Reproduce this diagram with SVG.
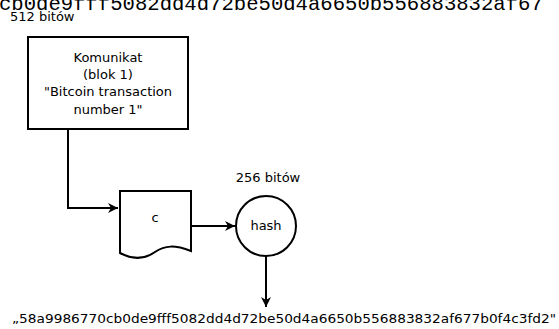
<svg xmlns="http://www.w3.org/2000/svg" width="559" height="329" viewBox="0 0 559 329">
  <style>
    .lbl { font-family: "DejaVu Sans", sans-serif; font-size: 13px; fill: #000; }
    .mid { text-anchor: middle; }
    .mono { font-family: "Liberation Mono", "Courier New", monospace; font-size: 20.6px; fill: #000; }
    .shape { fill: #fff; stroke: #000; stroke-width: 2; }
    .wire { fill: none; stroke: #000; stroke-width: 2; }
  </style>
  <defs>
    <marker id="arrow" viewBox="0 0 10 10" refX="10" refY="5" markerWidth="5" markerHeight="5" orient="auto" markerUnits="strokeWidth">
      <path d="M0,0 L10,5 L0,10 L3,5 Z" fill="#000"/>
    </marker>
  </defs>
  <rect width="559" height="329" fill="#fff"/>

  <!-- hash string running off the top edge -->
  <text class="mono" x="-1" y="10">cb0de9fff5082dd4d72be50d4a6650b556883832af67</text>
  <text class="lbl" x="10" y="21">512 bitów</text>

  <g id="connectors">
    <path class="wire" d="M68,129 V208 H118" marker-end="url(#arrow)"/>
    <path class="wire" d="M191,226 H235" marker-end="url(#arrow)"/>
    <path class="wire" d="M266,256 V307" marker-end="url(#arrow)"/>
  </g>

  <g id="message">
    <rect class="shape" x="28" y="37" width="160" height="92"/>
    <text class="lbl mid" x="108" y="62">Komunikat</text>
    <text class="lbl mid" x="108" y="79">(blok 1)</text>
    <text class="lbl mid" x="108" y="96">"Bitcoin transaction</text>
    <text class="lbl mid" x="108" y="114">number 1"</text>
  </g>

  <g id="doc">
    <path class="shape" d="M120,191 H191 V251 C175,245 165,245 155,252 C145,259 133,260 120,253 Z"/>
    <text class="lbl mid" x="155" y="222">c</text>
  </g>

  <g id="hash">
    <text class="lbl mid" x="268" y="182">256 bitów</text>
    <circle class="shape" cx="266" cy="226" r="30"/>
    <text class="lbl mid" x="266" y="230">hash</text>
  </g>

  <text class="lbl" x="12" y="323" textLength="544" lengthAdjust="spacingAndGlyphs">„58a9986770cb0de9fff5082dd4d72be50d4a6650b556883832af677b0f4c3fd2"</text>
</svg>
